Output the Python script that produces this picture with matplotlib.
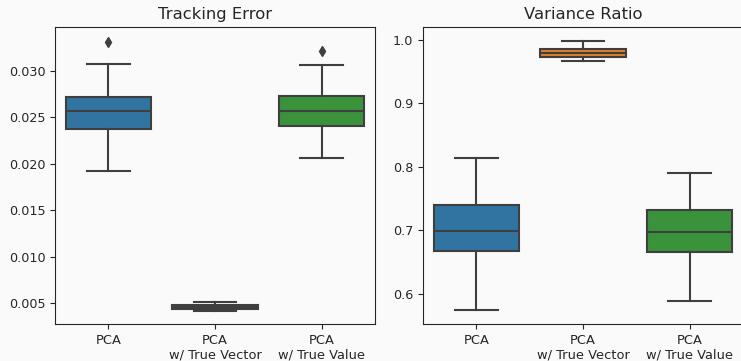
import matplotlib
matplotlib.use("Agg")
import matplotlib.pyplot as plt

categories = ["PCA", "PCA\nw/ True Vector", "PCA\nw/ True Value"]
colors = ["#3274a1", "#e1812c", "#3a923a"]

# Tracking Error stats: whislo, q1, med, q3, whishi, fliers
te_whislo = [0.01926, 0.00412, 0.02059]
te_q1 = [0.02378, 0.00432, 0.02407]
te_med = [0.02566, 0.00458, 0.02566]
te_q3 = [0.02723, 0.00478, 0.02731]
te_whishi = [0.03075, 0.00512, 0.03061]
te_fliers = [[0.03316], [], [0.03216]]

# Variance Ratio stats
vr_whislo = [0.5738, 0.9663, 0.5890]
vr_q1 = [0.6674, 0.9732, 0.6656]
vr_med = [0.6994, 0.9794, 0.6979]
vr_q3 = [0.7398, 0.9848, 0.7315]
vr_whishi = [0.8132, 0.9980, 0.7906]
vr_fliers = [[], [], []]

bg = "#fafafa"
line_c = "#3f3f3f"

fig = plt.figure(figsize=(7.41, 3.61), dpi=100, facecolor=bg)
ax1 = fig.add_axes([55/741, 37/361, 320/741, 297/361])
ax2 = fig.add_axes([423/741, 37/361, 320/741, 297/361])

def draw(ax, title, whislo, q1, med, q3, whishi, fliers):
    stats = []
    for i in range(len(categories)):
        stats.append(dict(whislo=whislo[i], q1=q1[i], med=med[i], q3=q3[i],
                          whishi=whishi[i], fliers=fliers[i]))
    bp = ax.bxp(stats, positions=range(len(categories)), widths=0.8,
                patch_artist=True, showfliers=True,
                boxprops=dict(edgecolor=line_c, linewidth=1.5),
                whiskerprops=dict(color=line_c, linewidth=1.5),
                capprops=dict(color=line_c, linewidth=1.5),
                medianprops=dict(color=line_c, linewidth=1.5),
                flierprops=dict(marker="d", markerfacecolor=line_c,
                                markeredgecolor=line_c, markersize=5))
    for patch, c in zip(bp["boxes"], colors):
        patch.set_facecolor(c)
    ax.set_facecolor(bg)
    ax.set_xlim(-0.5, 2.5)
    ax.set_xticks(range(len(categories)))
    ax.set_xticklabels(categories, fontsize=9.4, color="#262626")
    ax.tick_params(axis="y", labelsize=9.2, labelcolor="#262626", length=3.5, color="#262626")
    ax.tick_params(axis="x", length=3.5, color="#262626")
    ax.set_title(title, fontsize=11.8, color="#262626", pad=6)
    for s in ax.spines.values():
        s.set_color("#262626")

draw(ax1, "Tracking Error", te_whislo, te_q1, te_med, te_q3, te_whishi, te_fliers)
draw(ax2, "Variance Ratio", vr_whislo, vr_q1, vr_med, vr_q3, vr_whishi, vr_fliers)
ax1.set_ylim(0.00274, 0.03474)
ax1.set_yticks([0.005, 0.010, 0.015, 0.020, 0.025, 0.030])
ax1.set_yticklabels(["0.005", "0.010", "0.015", "0.020", "0.025", "0.030"])
ax2.set_ylim(0.5523, 1.0200)
ax2.set_yticks([0.6, 0.7, 0.8, 0.9, 1.0])

fig.savefig("out.png", dpi=100, facecolor=bg)
